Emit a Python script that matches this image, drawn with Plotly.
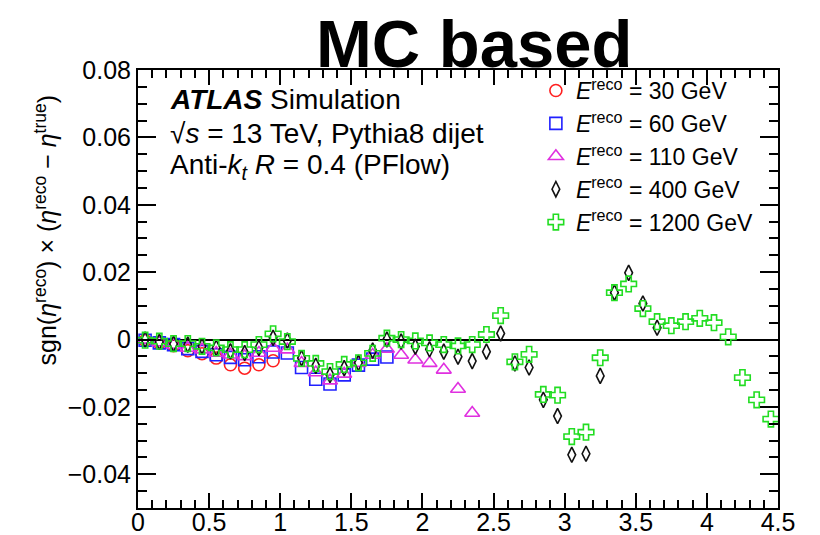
import plotly.graph_objects as go

# ---- data ----
ETA = [0.05, 0.15, 0.25, 0.35, 0.45, 0.55, 0.65, 0.75, 0.85, 0.95,
       1.05, 1.15, 1.25, 1.35, 1.45, 1.55, 1.65, 1.75, 1.85, 1.95,
       2.05, 2.15, 2.25, 2.35, 2.45, 2.55, 2.65, 2.75, 2.85, 2.95,
       3.05, 3.15, 3.25, 3.35, 3.45, 3.55, 3.65, 3.75, 3.85, 3.95,
       4.05, 4.15, 4.25, 4.35, 4.45]

E30 = [-0.0003, -0.0010, -0.0018, -0.0033, -0.0042, -0.0055, -0.0075, -0.0085, -0.0075, -0.0063]

E60 = [-0.0002, -0.0010, -0.0015, -0.0027, -0.0035, -0.0045, -0.0053, -0.0060, -0.0051, -0.0037,
       -0.0040, -0.0083, -0.0118, -0.0132, -0.0105, -0.0076, -0.0058, -0.0052]

E110 = [-0.0001, -0.0009, -0.0016, -0.0025, -0.0030, -0.0040, -0.0045, -0.0050, -0.0040, -0.0025,
        -0.0030, -0.0070, -0.0098, -0.0122, -0.0102, -0.0070, -0.0046, -0.0028, -0.0046, -0.0060,
        -0.0070, -0.0090, -0.0147, -0.0218]

E400 = [0.0000, -0.0007, -0.0013, -0.0015, -0.0020, -0.0025, -0.0035, -0.0040, -0.0025, 0.0005,
        -0.0003, -0.0055, -0.0078, -0.0105, -0.0085, -0.0069, -0.0033, 0.0000, -0.0006, -0.0021,
        -0.0029, -0.0036, -0.0051, -0.0064, -0.0036, 0.0018, -0.0071, -0.0083, -0.0179, -0.0227,
        -0.0342, -0.0339, -0.0108, 0.0139, 0.0198, 0.0107, 0.0035]

E1200 = [-0.0002, -0.0005, -0.0012, -0.0012, -0.0020, -0.0025, -0.0030, -0.0030, -0.0015, 0.0017,
         -0.0006, -0.0056, -0.0071, -0.0095, -0.0074, -0.0069, -0.0041, 0.0004, 0.0000, -0.0004,
         -0.0010, -0.0015, -0.0019, -0.0015, 0.0015, 0.0071, -0.0066, -0.0044, -0.0163, -0.0165,
         -0.0288, -0.0275, -0.0054, 0.0139, 0.0165, 0.0092, 0.0053, 0.0041, 0.0053, 0.0063,
         0.0050, 0.0008, -0.0113, -0.0179, -0.0236]

SERIES_NAMES = ["30", "60", "110", "400", "1200"]

X_TICKS = [0, 0.5, 1, 1.5, 2, 2.5, 3, 3.5, 4, 4.5]
X_TICKTEXT = ["0", "0.5", "1", "1.5", "2", "2.5", "3", "3.5", "4", "4.5"]
Y_TICKS = [-0.04, -0.02, 0, 0.02, 0.04, 0.06, 0.08]
Y_TICKTEXT = ["\u22120.04", "\u22120.02", "0", "0.02", "0.04", "0.06", "0.08"]

# ---- styling ----
W, H = 820, 535            # reference picture size
OFF = 8                     # default page body margin
L, R, T, B = 137.5, 778.5, 70, 508.5   # plot area in reference pixels
FONT = "Liberation Sans, Arial, Helvetica, sans-serif"

styles = [
    dict(symbol="circle-open", color="#ff2020", size=12),
    dict(symbol="square-open", color="#2020ff", size=12),
    dict(symbol="triangle-up-open", color="#e030e0", size=13),
    dict(symbol="diamond-tall-open", color="#111111", size=11),
    dict(symbol="cross-open", color="#22dd22", size=13),
]

data = [E30, E60, E110, E400, E1200]

fig = go.Figure()
for name, vals, st in zip(SERIES_NAMES, data, styles):
    fig.add_trace(go.Scatter(
        x=ETA[:len(vals)], y=vals, mode="markers",
        name=f"<i>E</i><sup>reco</sup> = {name} GeV",
        marker=dict(symbol=st["symbol"], size=st["size"], color=st["color"],
                    line=dict(color=st["color"], width=1.6)),
        cliponaxis=False,
    ))

def px_y(p):
    return (B - p) / (B - T)

def px_x(p):
    return (p - L) / (R - L)

axis_common = dict(showline=True, linecolor="black", linewidth=2, mirror="ticks",
                   ticks="inside", tickcolor="black", tickwidth=1.5, showgrid=False,
                   automargin=False,
                   tickfont=dict(family=FONT, size=25, color="black"))

fig.update_layout(
    width=W - OFF, height=H - OFF,
    margin=dict(l=L - OFF, r=W - R, t=T - OFF, b=H - B, pad=0),
    paper_bgcolor="white", plot_bgcolor="white",
    font=dict(family=FONT, color="black"),
    xaxis=dict(range=[0, 4.5], tickvals=X_TICKS, ticktext=X_TICKTEXT, ticklen=15,
               ticklabelstandoff=-9,
               minor=dict(dtick=0.1, tick0=0, ticks="inside", ticklen=8, tickcolor="black",
                          tickwidth=1.5, showgrid=False),
               zeroline=False, **axis_common),
    yaxis=dict(range=[-0.05, 0.08], tickvals=Y_TICKS, ticktext=Y_TICKTEXT, ticklen=18,
               minor=dict(dtick=0.005, tick0=0, ticks="inside", ticklen=9, tickcolor="black",
                          tickwidth=1.5, showgrid=False),
               zeroline=True, zerolinecolor="black", zerolinewidth=2, **axis_common),
    legend=dict(x=px_x(536), y=px_y(69), xanchor="left", yanchor="top",
                bgcolor="rgba(0,0,0,0)", font=dict(family=FONT, size=23, color="black"),
                itemwidth=30, tracegroupgap=0),
    showlegend=True,
)

ann = [
    dict(text="<b>MC based</b>", x=px_x(474), y=px_y(43), size=67),
    dict(text="<b><i>ATLAS</i></b> Simulation", x=px_x(168), y=px_y(100), size=28, left=True),
    dict(text="\u221a<i>s</i> = 13 TeV, Pythia8 dijet", x=px_x(168), y=px_y(134), size=28, left=True),
    dict(text="Anti-<i>k</i><sub><i>t</i></sub> <i>R</i> = 0.4 (PFlow)", x=px_x(168), y=px_y(167), size=28, left=True),
]
for a in ann:
    fig.add_annotation(text=a["text"], x=a["x"], y=a["y"], xref="paper", yref="paper",
                       xanchor="left" if a.get("left") else "center", yanchor="middle",
                       showarrow=False, font=dict(family=FONT, size=a["size"], color="black"))

fig.add_annotation(
    text="sgn(<i>\u03b7</i><sup>reco</sup>) \u00d7 (<i>\u03b7</i><sup>reco</sup> \u2212 <i>\u03b7</i><sup>true</sup>)",
    x=px_x(45), y=px_y(230), xref="paper", yref="paper", textangle=-90,
    xanchor="center", yanchor="middle", showarrow=False,
    font=dict(family=FONT, size=25, color="black"))

fig.write_html("out.html")
